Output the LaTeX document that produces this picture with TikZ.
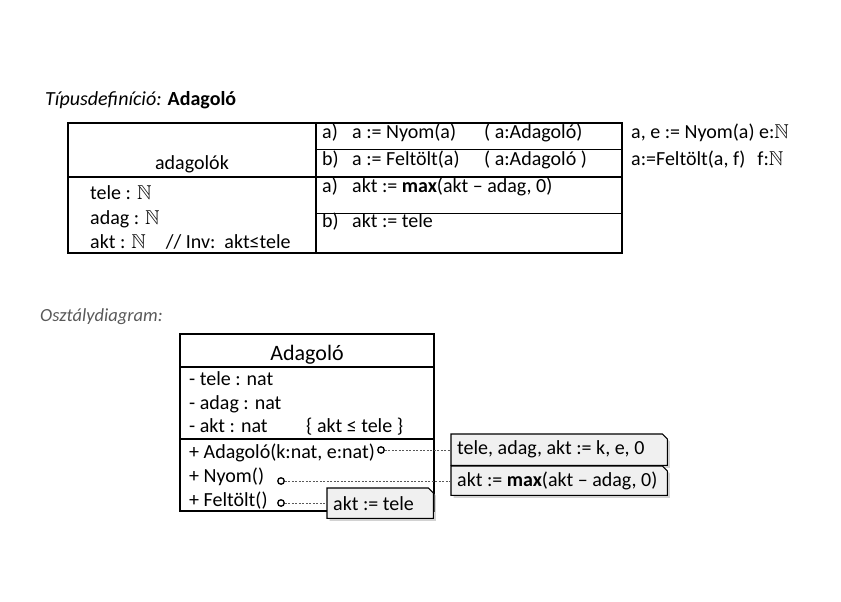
\documentclass[tikz,border=0pt]{standalone}
\usepackage{amssymb}
\usepackage{fontspec}
\setmainfont{Carlito}
\usetikzlibrary{shadows, backgrounds}

\newcommand{\natset}{$\mathbb{N}$}

\begin{document}
\begin{tikzpicture}[x=1pt, y=-1pt, font=\fontsize{20}{24}\selectfont,
txt/.style={anchor=base west, inner sep=0pt},
thickline/.style={line width=1.8pt},
thinline/.style={line width=1pt},
umlline/.style={line width=1.4pt},
notebox/.style={rectangle, anchor=north west, inner xsep=6pt, inner ysep=0pt},
notefill/.style={line width=1.1pt, fill=black!6, drop shadow={shadow xshift=2.5pt, shadow yshift=-2.5pt, fill=black!35}},
hook/.style={circle, draw, line width=1.3pt, fill=white, inner sep=0pt, minimum size=6.5pt},
link/.style={dash pattern=on 2pt off 1.5pt, line width=0.6pt, black!65}
]
	\useasboundingbox (0,0) rectangle (841,602);

	% type definition
	\node[txt] (title) at (45,106) {\textit{Típusdefiníció:} \textbf{Adagoló}};
	\draw[thickline] (68,123) rectangle (622,253);
	\draw[thickline] (316,123) -- (316,253);
	\draw[thickline] (68,177) -- (622,177);
	\draw[thinline] (316,149) -- (622,149);
	\draw[thinline] (316,213) -- (622,213);

	\node[anchor=base, inner sep=0pt] (set) at (192,169) {adagolók};
	\node[txt] (r1) at (90,199) {tele : \natset};
	\node[txt] (r2) at (90,224) {adag : \natset};
	\node[txt] (r3) at (90,248) {akt : \natset\hspace{20pt}// Inv:\ \ akt≤tele};

	\node[txt] (o1l) at (322,139) {a)};
	\node[txt] (o1) at (352,139) {a := Nyom(a)};
	\node[txt] (o1t) at (484,139) {( a:Adagoló)};
	\node[txt] (o2l) at (322,165) {b)};
	\node[txt] (o2) at (352,165) {a := Feltölt(a)};
	\node[txt] (o2t) at (484,165) {( a:Adagoló )};
	\node[txt] (i1l) at (322,192) {a)};
	\node[txt] (i1) at (352,192) {akt := \textbf{max}(akt -- adag, 0)};
	\node[txt] (i2l) at (322,227) {b)};
	\node[txt] (i2) at (352,227) {akt := tele};

	\node[txt] (s1) at (631,139) {a, e := Nyom(a) e:\natset};
	\node[txt] (s2) at (631,165) {a:=Feltölt(a, f)\hspace{12pt}f:\natset};

	% class diagram
	\node[txt, font=\fontsize{18.5}{22}\selectfont\itshape, text=black!65] (cd) at (40,321) {Osztálydiagram:};

	\node[anchor=base, inner sep=0pt, font=\fontsize{22}{26}\selectfont] (cname) at (307,360) {Adagoló};
	\node[txt] (a1) at (189,385) {- tele : nat};
	\node[txt] (a2) at (189,409) {- adag : nat};
	\node[txt] (a3) at (189,432) {- akt : nat};
	\node[txt] (inv) at (306,432) {\{ akt ≤ tele \}};
	\node[txt] (m1) at (189,458) {+ Adagoló(k:nat, e:nat)};
	\node[txt] (m2) at (189,482) {+ Nyom()};
	\node[txt] (m3) at (189,506) {+ Feltölt()};

	\node[notebox, minimum height=31pt] (n1) at (451,434) {\makebox[204pt][l]{tele, adag, akt := k, e, 0}};
	\node[notebox, minimum height=29pt] (n2) at (451,466) {\makebox[204pt][l]{akt := \textbf{max}(akt -- adag, 0)}};
	\node[notebox, minimum height=30pt] (n3) at (327,488) {\makebox[94pt][l]{akt := tele}};

	\begin{scope}[on background layer]
		\draw[umlline] (180,334) rectangle (434,511);
		\draw[umlline] (180,367) -- (434,367);
		\draw[umlline] (180,439) -- (434,439);
		\foreach \n in {n1,n2,n3}
			\filldraw[notefill] (\n.north west) -- ([xshift=-5pt]\n.north east) -- ([yshift=-5pt]\n.north east) -- (\n.south east) -- (\n.south west) -- cycle;
	\end{scope}

	\node[hook] (c1) at (381,450) {};
	\node[hook] (c2) at (281,481) {};
	\node[hook] (c3) at (281,503) {};
	\draw[link] (c1.east) -- (c1 -| n1.west);
	\draw[link] (c2.east) -- (c2 -| n2.west);
	\draw[link] (c3.east) -- (c3 -| n3.west);
\end{tikzpicture}
\end{document}
